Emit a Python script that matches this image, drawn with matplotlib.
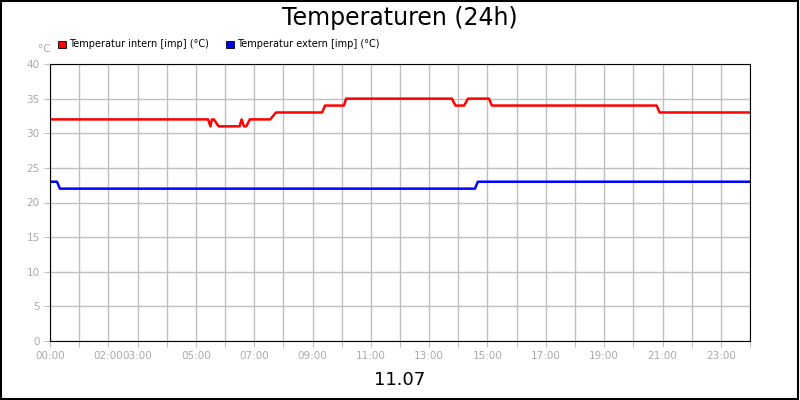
import matplotlib
matplotlib.use("Agg")
import matplotlib.pyplot as plt
from matplotlib.patches import Rectangle

intern_h = [0, 5.42, 5.5, 5.55, 5.62, 5.78, 6.5, 6.57, 6.65, 6.73, 6.85, 7.55, 7.75, 9.33, 9.43, 10.08, 10.15, 13.78, 13.9, 14.2, 14.33, 15.05, 15.15, 20.8, 20.9, 24]
intern_v = [32, 32, 31, 32, 32, 31, 31, 32, 31, 31, 32, 32, 33, 33, 34, 34, 35, 35, 34, 34, 35, 35, 34, 34, 33, 33]
extern_h = [0, 0.24, 0.34, 14.57, 14.67, 24]
extern_v = [23, 23, 22, 22, 23, 23]
xtick_labels = {0: "00:00", 2: "02:00", 3: "03:00", 5: "05:00", 7: "07:00", 9: "09:00", 11: "11:00",
                13: "13:00", 15: "15:00", 17: "17:00", 19: "19:00", 21: "21:00", 23: "23:00"}
yticks = [0, 5, 10, 15, 20, 25, 30, 35, 40]

fig = plt.figure(figsize=(8, 4), dpi=100)
fig.patches.append(Rectangle((0.001, 0.002), 0.997, 0.996, transform=fig.transFigure, fill=False, ec="black", lw=1.5))
ax = fig.add_axes([0.0625, 0.1475, 0.875, 0.6925])
ax.plot(intern_h, intern_v, color="#ff0000", lw=1.8)
ax.plot(extern_h, extern_v, color="#0000ff", lw=1.8)
ax.set_xlim(0, 24)
ax.set_ylim(0, 40)
ax.set_xticks(range(0, 25))
ax.set_xticklabels([xtick_labels.get(h, "") for h in range(0, 25)])
ax.set_yticks(yticks)
ax.grid(True, color="#c0c0c0", lw=1)
ax.set_axisbelow(True)
ax.tick_params(colors="#c0c0c0", labelcolor="#aaaaaa", labelsize=7.5, length=4)
for s in ax.spines.values():
    s.set_color("black")
fig.text(0.5, 0.955, "Temperaturen (24h)", ha="center", va="center", fontsize=17)
fig.text(0.5, 0.05, "11.07", ha="center", va="center", fontsize=13)
fig.text(0.047, 0.878, "°C", ha="left", va="center", fontsize=7.5, color="#aaaaaa")
fig.patches.append(Rectangle((0.073, 0.88), 0.009, 0.018, transform=fig.transFigure, fc="#ff0000", ec="black", lw=0.6))
fig.text(0.086, 0.889, "Temperatur intern [imp] (°C)", fontsize=7, va="center")
fig.patches.append(Rectangle((0.283, 0.88), 0.009, 0.018, transform=fig.transFigure, fc="#0000ff", ec="black", lw=0.6))
fig.text(0.296, 0.889, "Temperatur extern [imp] (°C)", fontsize=7, va="center")
fig.savefig("out.png", dpi=100)
